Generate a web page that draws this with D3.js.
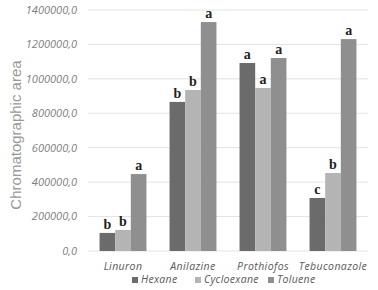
<!DOCTYPE html>
<html>
<head>
<meta charset="utf-8">
<script src="https://cdn.jsdelivr.net/npm/d3@7"></script>
<style>
  body { margin: 0; background: #fff; }
</style>
</head>
<body>
<div id="chart"></div>
<script>
var compounds = ["Linuron", "Anilazine", "Prothiofos", "Tebuconazole"];
var solvents = ["Hexane", "Cycloexane", "Toluene"];
var hexane = [105000, 866000, 1092000, 308000];
var cycloexane = [122000, 935000, 947000, 453000];
var toluene = [447000, 1330000, 1121000, 1231000];
var letters = [["b", "b", "a"], ["b", "b", "a"], ["a", "a", "a"], ["c", "b", "a"]];
var yTicks = [0, 200000, 400000, 600000, 800000, 1000000, 1200000, 1400000];
var colors = ["#6b6b6b", "#b4b4b4", "#8f8f8f"];

var width = 378;
var height = 290;
var margin = {top: 10, right: 10, bottom: 39, left: 88};

var svg = d3.select("#chart")
    .append("svg")
    .attr("width", width)
    .attr("height", height);

var series = [hexane, cycloexane, toluene];

var x = d3.scaleBand()
    .domain(compounds)
    .range([margin.left, width - margin.right])
    .paddingInner(0.33)
    .paddingOuter(0.165);

var xSub = d3.scaleBand()
    .domain(solvents)
    .range([0, x.bandwidth()]);

var y = d3.scaleLinear()
    .domain([0, 1400000])
    .range([height - margin.bottom, margin.top]);

// gridlines
svg.append("g")
    .selectAll("line")
    .data(yTicks)
    .join("line")
    .attr("x1", margin.left)
    .attr("x2", width - margin.right)
    .attr("y1", d => y(d))
    .attr("y2", d => y(d))
    .attr("stroke", "#e3e3e3")
    .attr("stroke-width", 1);

// y tick labels
svg.append("g")
    .selectAll("text")
    .data(yTicks)
    .join("text")
    .attr("x", margin.left - 11)
    .attr("y", d => y(d))
    .attr("dy", "0.35em")
    .attr("text-anchor", "end")
    .attr("font-family", "Open Sans, sans-serif")
    .attr("font-style", "italic")
    .attr("font-size", 11)
    .attr("fill", "#808080")
    .text(d => d3.format(".1f")(d).replace(".", ","));

// y axis title
svg.append("text")
    .attr("transform", "translate(21,135) rotate(-90)")
    .attr("text-anchor", "middle")
    .attr("font-family", "Liberation Sans, Arial, sans-serif")
    .attr("font-size", 15)
    .attr("fill", "#999")
    .text("Chromatographic area");

// bars
var groups = svg.append("g")
    .selectAll("g")
    .data(compounds)
    .join("g")
    .attr("transform", d => "translate(" + x(d) + ",0)");

groups.selectAll("rect")
    .data((d, i) => solvents.map((s, j) => ({solvent: s, value: series[j][i], letter: letters[i][j], j: j})))
    .join("rect")
    .attr("x", d => xSub(d.solvent))
    .attr("y", d => y(d.value))
    .attr("width", xSub.bandwidth())
    .attr("height", d => y(0) - y(d.value))
    .attr("fill", d => colors[d.j]);

groups.selectAll("text")
    .data((d, i) => solvents.map((s, j) => ({solvent: s, value: series[j][i], letter: letters[i][j]})))
    .join("text")
    .attr("x", d => xSub(d.solvent) + xSub.bandwidth() / 2)
    .attr("y", d => y(d.value) - 4)
    .attr("text-anchor", "middle")
    .attr("font-family", "Liberation Serif, Times New Roman, serif")
    .attr("font-weight", "bold")
    .attr("font-size", 14)
    .attr("fill", "#222")
    .text(d => d.letter);

// category labels
svg.append("g")
    .selectAll("text")
    .data(compounds)
    .join("text")
    .attr("x", d => x(d) + x.bandwidth() / 2)
    .attr("y", height - margin.bottom + 19)
    .attr("text-anchor", "middle")
    .attr("font-family", "Open Sans, sans-serif")
    .attr("font-style", "italic")
    .attr("font-size", 10.5)
    .attr("letter-spacing", 0.4)
    .attr("fill", "#595959")
    .text(d => d);

// legend
var legendX = [132, 195, 268];
var legend = svg.append("g")
    .selectAll("g")
    .data(solvents)
    .join("g")
    .attr("transform", (d, i) => "translate(" + legendX[i] + "," + (height - 7) + ")");

legend.append("rect")
    .attr("x", 0)
    .attr("y", -6)
    .attr("width", 6)
    .attr("height", 6)
    .attr("fill", (d, i) => colors[i]);

legend.append("text")
    .attr("x", 9)
    .attr("y", 0)
    .attr("font-family", "Open Sans, sans-serif")
    .attr("font-style", "italic")
    .attr("font-size", 10.5)
    .attr("letter-spacing", 0.3)
    .attr("fill", "#595959")
    .text(d => d);
</script>
</body>
</html>
